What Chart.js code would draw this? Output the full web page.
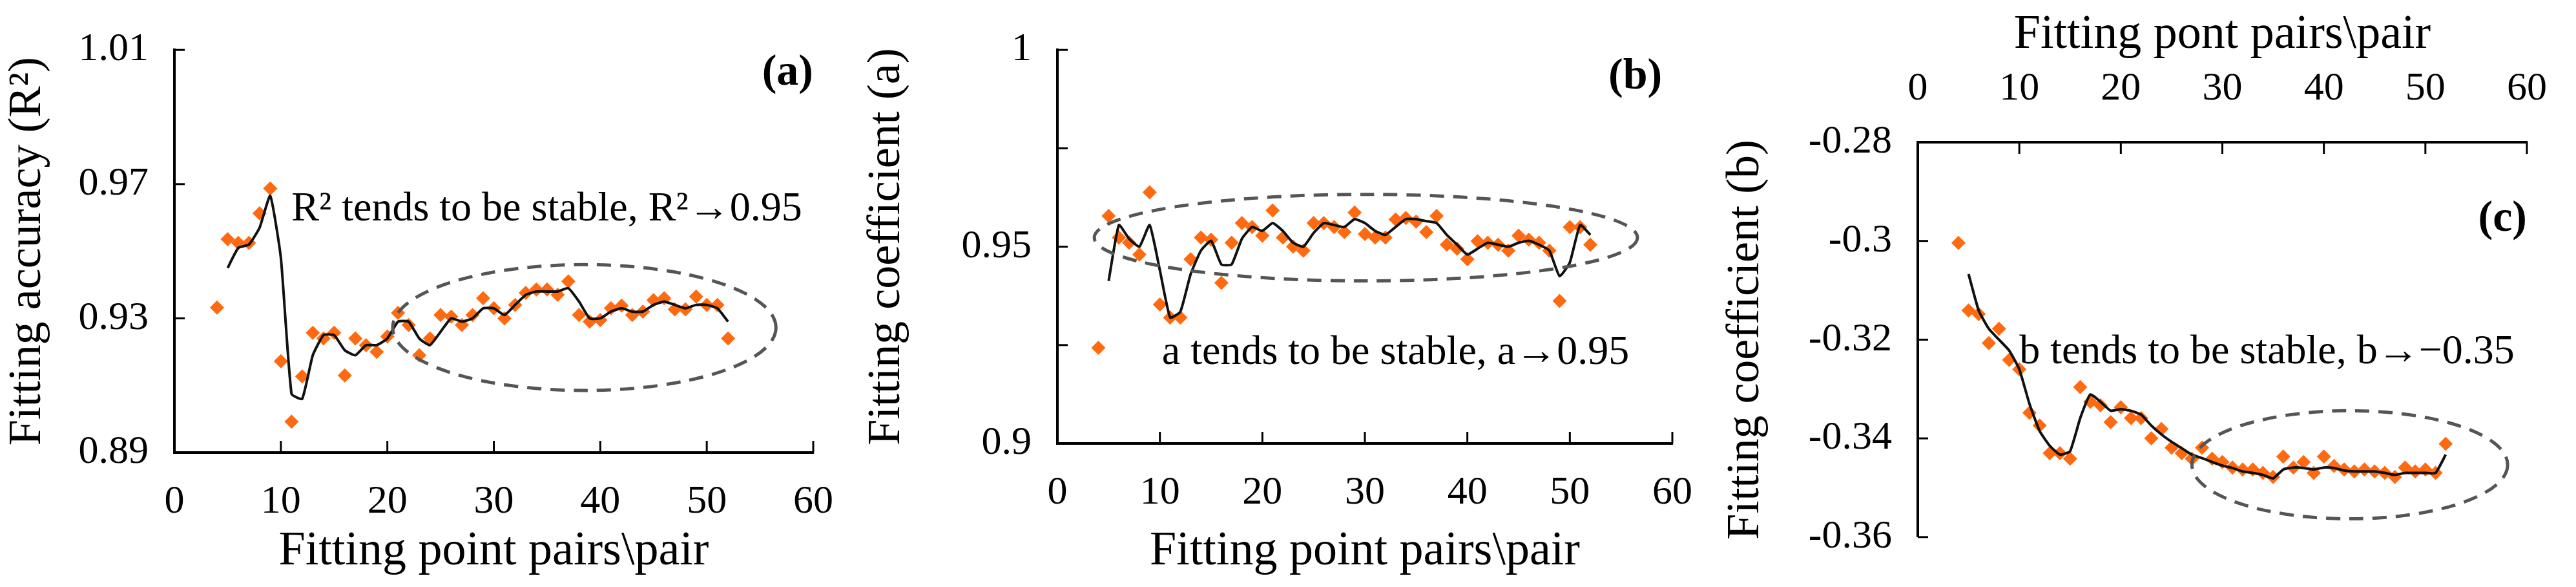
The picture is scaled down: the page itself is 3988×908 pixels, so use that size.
<!DOCTYPE html>
<html><head><meta charset="utf-8">
<script src="https://cdn.jsdelivr.net/npm/chart.js@4"></script>
<style>
html,body{margin:0;padding:0;background:#fff;width:3988px;height:908px;overflow:hidden}
.p{position:absolute;top:0;height:908px}
</style></head><body>
<div class="p" style="left:0;width:1330px"><canvas id="ca" width="1330" height="908"></canvas></div>
<div class="p" style="left:1330px;width:1330px"><canvas id="cb" width="1330" height="908"></canvas></div>
<div class="p" style="left:2660px;width:1328px"><canvas id="cc" width="1328" height="908"></canvas></div>
<script>
const pointX = [4,5,6,7,8,9,10,11,12,13,14,15,16,17,18,19,20,21,22,23,24,25,26,27,28,29,30,31,32,33,34,35,36,37,38,39,40,41,42,43,44,45,46,47,48,49,50,51,52];
const lineX = [5,6,7,8,9,10,11,12,13,14,15,16,17,18,19,20,21,22,23,24,25,26,27,28,29,30,31,32,33,34,35,36,37,38,39,40,41,42,43,44,45,46,47,48,49,50,51,52];
const r2Points = [0.9332,0.9536,0.9525,0.9525,0.9613,0.9687,0.9172,0.8992,0.9127,0.9257,0.9240,0.9257,0.9130,0.9240,0.9220,0.9200,0.9246,0.9316,0.9280,0.9190,0.9240,0.9310,0.9305,0.9280,0.9310,0.9360,0.9330,0.9300,0.9340,0.9376,0.9386,0.9386,0.9370,0.9410,0.9310,0.9290,0.9295,0.9330,0.9338,0.9310,0.9320,0.9354,0.9360,0.9327,0.9327,0.9365,0.9340,0.9340,0.9240];
const r2Line = [0.945,0.951,0.952,0.957,0.9665,0.948,0.9075,0.906,0.919,0.925,0.925,0.9205,0.919,0.922,0.922,0.924,0.929,0.929,0.924,0.922,0.926,0.930,0.929,0.930,0.933,0.933,0.931,0.934,0.937,0.938,0.938,0.938,0.939,0.935,0.930,0.930,0.932,0.933,0.932,0.932,0.934,0.935,0.934,0.933,0.934,0.934,0.933,0.929];
const aPoints = [0.9243,0.9578,0.9523,0.9510,0.9480,0.9638,0.9353,0.9320,0.9320,0.9468,0.9523,0.9518,0.9408,0.9510,0.9560,0.9550,0.9528,0.9592,0.9523,0.9500,0.9490,0.9560,0.9560,0.9550,0.9537,0.9587,0.9532,0.9523,0.9523,0.9569,0.9573,0.9564,0.9537,0.9578,0.9505,0.9495,0.9468,0.9514,0.9510,0.9505,0.9490,0.9528,0.9518,0.9510,0.9490,0.9362,0.9550,0.9550,0.9505];
const aLine = [0.9413,0.9555,0.952,0.950,0.9555,0.944,0.932,0.9335,0.943,0.949,0.9515,0.9455,0.9455,0.952,0.955,0.954,0.956,0.954,0.951,0.950,0.9535,0.956,0.9555,0.955,0.957,0.956,0.954,0.953,0.955,0.957,0.957,0.9565,0.956,0.953,0.9505,0.948,0.9495,0.951,0.9505,0.950,0.951,0.9515,0.9505,0.949,0.9425,0.946,0.9555,0.953];
const bPoints = [-0.3004,-0.3141,-0.3148,-0.3207,-0.3178,-0.3241,-0.3260,-0.3348,-0.3374,-0.3430,-0.3430,-0.3441,-0.3296,-0.3326,-0.3333,-0.3367,-0.3337,-0.3359,-0.3359,-0.3400,-0.3381,-0.3419,-0.3430,-0.3441,-0.3419,-0.3441,-0.3448,-0.3459,-0.3463,-0.3463,-0.3470,-0.3478,-0.3437,-0.3459,-0.3448,-0.3470,-0.3437,-0.3456,-0.3463,-0.3467,-0.3463,-0.3467,-0.3470,-0.3478,-0.3459,-0.3467,-0.3463,-0.3470,-0.3411];
const bLine = [-0.3067,-0.3141,-0.3178,-0.3200,-0.3222,-0.3260,-0.3330,-0.3385,-0.3415,-0.3433,-0.3426,-0.3359,-0.3311,-0.3326,-0.3344,-0.3341,-0.3344,-0.3352,-0.3374,-0.3392,-0.3407,-0.3420,-0.3433,-0.3440,-0.3448,-0.3455,-0.3460,-0.3467,-0.3470,-0.3474,-0.3481,-0.3463,-0.3459,-0.3460,-0.3463,-0.3459,-0.3460,-0.3465,-0.3467,-0.3467,-0.3467,-0.3470,-0.3474,-0.3470,-0.3470,-0.3470,-0.3470,-0.3433];
const panelLabels = ['(a)','(b)','(c)'];
const notes = ['R\u00B2 tends to be stable, R\u00B2\u21920.95','a tends to be stable, a\u21920.95','b tends to be stable, b\u2192\u22120.35'];
const xTitles = ['Fitting point pairs\\pair','Fitting point pairs\\pair','Fitting pont pairs\\pair'];
const yTitles = ['Fitting accuracy (R\u00B2)','Fitting coefficient (a)','Fitting coefficient (b)'];

const SERIF = '"Liberation Serif","DejaVu Serif",serif';
const ORANGE = '#ff6a10';

function mk(id, cfg){
  const xs = pointX.map((x,i)=>({x:x,y:cfg.pts[i]}));
  const ls = lineX.map((x,i)=>({x:x,y:cfg.line[i]}));
  const deco = {
    id:'deco',
    afterDraw(ch){
      const c = ch.ctx, X = ch.scales.x, Y = ch.scales.y;
      c.save();
      c.strokeStyle='#000'; c.lineWidth=3;
      X.ticks.forEach(t=>{const px=X.getPixelForValue(t.value);
        c.beginPath();
        if(cfg.xTop){c.moveTo(px,Y.top);c.lineTo(px,Y.top+18);} else {c.moveTo(px,Y.bottom);c.lineTo(px,Y.bottom-18);}
        c.stroke();});
      Y.ticks.forEach(t=>{const py=Y.getPixelForValue(t.value);
        c.beginPath();c.moveTo(X.left,py);c.lineTo(X.left+16,py);c.stroke();});
      const e=cfg.ell;
      const cx=X.getPixelForValue((e[0]+e[1])/2), cy=Y.getPixelForValue((e[2]+e[3])/2);
      const rx=Math.abs(X.getPixelForValue(e[1])-X.getPixelForValue(e[0]))/2;
      const ry=Math.abs(Y.getPixelForValue(e[3])-Y.getPixelForValue(e[2]))/2;
      c.strokeStyle='#555'; c.lineWidth=5; c.setLineDash([22,14]);
      c.beginPath(); c.ellipse(cx,cy,rx,ry,0,0,Math.PI*2); c.stroke();
      c.setLineDash([]);
      c.fillStyle='#000'; c.font='64px '+SERIF; c.textAlign='left'; c.textBaseline='middle';
      c.fillText(cfg.note, X.getPixelForValue(cfg.noteAt[0]), Y.getPixelForValue(cfg.noteAt[1]));
      c.font='bold 68px '+SERIF; c.textAlign='right';
      c.fillText(cfg.label, X.getPixelForValue(cfg.labelAt[0]), Y.getPixelForValue(cfg.labelAt[1]));
      c.restore();
    }
  };
  return new Chart(document.getElementById(id),{
    type:'scatter',
    data:{datasets:[
      {data:ls,showLine:true,borderColor:'#111',borderWidth:4,pointRadius:0,tension:0.15,order:0},
      {data:xs,pointStyle:'rectRot',pointRadius:11,backgroundColor:ORANGE,borderColor:ORANGE,borderWidth:0,order:1}
    ]},
    options:{
      responsive:false,animation:false,
      layout:{padding:cfg.pad},
      plugins:{legend:{display:false},tooltip:{enabled:false}},
      scales:{
        x:{type:'linear',position:cfg.xTop?'top':'bottom',min:0,max:60,
          ticks:{stepSize:10,color:'#000',font:{family:SERIF,size:62},padding:cfg.xTickPad,maxRotation:0},
          grid:{display:false,drawTicks:false},border:{display:true,color:'#000',width:4},
          title:{display:true,text:cfg.xTitle,color:'#000',font:{family:SERIF,size:74},padding:cfg.xTitlePad},
          afterFit(s){s.height=cfg.xH;}},
        y:{type:'linear',min:cfg.ymin,max:cfg.ymax,
          ticks:{stepSize:cfg.ystep,color:'#000',font:{family:SERIF,size:62},padding:40,callback:cfg.yfmt},
          grid:{display:false,drawTicks:false},border:{display:true,color:'#000',width:4},
          title:{display:true,text:cfg.yTitle,color:'#000',font:{family:SERIF,size:72},padding:cfg.yTitlePad},
          afterFit(s){s.width=cfg.yW;}}
      }
    },
    plugins:[deco]
  });
}
const fmt = v=>String(Number(v.toFixed(3)));
mk('ca',{pts:r2Points,line:r2Line,ymin:0.89,ymax:1.01,ystep:0.04,yfmt:v=>v.toFixed(2),
  pad:{left:0,right:32,top:58,bottom:0},xH:208,yW:270,xTickPad:40,xTitlePad:{top:0,bottom:10},yTitlePad:{top:0,bottom:0},
  xTitle:xTitles[0],yTitle:yTitles[0],ell:[20.5,56.5,0.9085,0.946],note:notes[0],noteAt:[11,0.9624],label:panelLabels[0],labelAt:[60,1.003]});
mk('cb',{pts:aPoints,line:aLine,ymin:0.9,ymax:1.0,ystep:0.025,yfmt:v=>{const r=Math.round(v*1000);return (r%50===0)?fmt(v):'';},
  pad:{left:0,right:36,top:55,bottom:0},xH:222,yW:307,xTickPad:40,xTitlePad:{top:0,bottom:10},yTitlePad:{top:0,bottom:40},
  xTitle:xTitles[1],yTitle:yTitles[1],ell:[3.6,56.6,0.9413,0.9633],note:notes[1],noteAt:[10.2,0.9229],label:panelLabels[1],labelAt:[59,0.993]});
mk('cc',{pts:bPoints,line:bLine,ymin:-0.36,ymax:-0.28,ystep:0.02,yfmt:v=>fmt(v),xTop:true,
  pad:{left:0,right:57,top:0,bottom:66},xH:220,yW:309,xTickPad:45,xTitlePad:{top:10,bottom:10},yTitlePad:{top:0,bottom:30},
  xTitle:xTitles[2],yTitle:yTitles[2],ell:[27,58.1,-0.3563,-0.3344],note:notes[2],noteAt:[10,-0.3226],label:panelLabels[2],labelAt:[60,-0.2956]});
</script></body></html>
